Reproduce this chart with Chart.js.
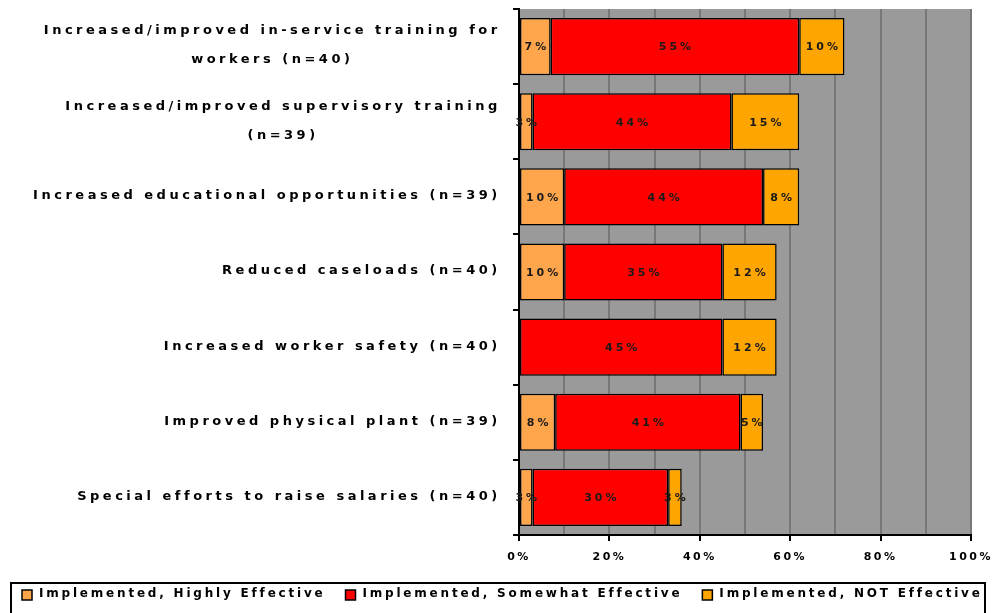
<!DOCTYPE html>
<html>
<head>
<meta charset="utf-8">
<script src="https://cdn.jsdelivr.net/npm/chart.js@4/dist/chart.umd.min.js"></script>
<style>
  html, body { margin: 0; padding: 0; background: #fff; }
  #wrap { width: 992px; height: 613px; }
</style>
</head>
<body>
<div id="wrap"><canvas id="chart"></canvas></div>
<script>
// categories (top to bottom)
const categories = [
	["Increased/improved in-service training for", "workers (n=40)"],
	["Increased/improved supervisory training", "(n=39)"],
	"Increased educational opportunities (n=39)",
	"Reduced caseloads (n=40)",
	"Increased worker safety (n=40)",
	"Improved physical plant (n=39)",
	"Special efforts to raise salaries (n=40)"
];
const seriesNames = [
	"Implemented, Highly Effective",
	"Implemented, Somewhat Effective",
	"Implemented, NOT Effective"
];
const highlyEffective = [7, 3, 10, 10, 0, 8, 3];
const somewhatEffective = [55, 44, 44, 35, 45, 41, 30];
const notEffective = [10, 15, 8, 12, 12, 5, 3];
const xTickValues = [0, 20, 40, 60, 80, 100];

const FONT = "'DejaVu Sans', sans-serif";
const colors = ["#FFA64D", "#FF0000", "#FFA500"];

// draws the gray plot background, segment labels, category labels and the boxed legend
const decoPlugin = {
	id: "deco",
	beforeDraw(chart) {
		const { ctx, chartArea: a } = chart;
		ctx.save();
		ctx.fillStyle = "#9a9a9a";
		ctx.fillRect(a.left, a.top, a.right - a.left, a.bottom - a.top);
		ctx.restore();
		ctx.letterSpacing = "2.5px";
	},
	afterDatasetsDraw(chart) {
		const ctx = chart.ctx;
		ctx.save();
		ctx.font = "bold 11px " + FONT;
		ctx.letterSpacing = "3px";
		ctx.fillStyle = "#1a1a1a";
		ctx.textAlign = "center";
		ctx.textBaseline = "middle";
		chart.data.datasets.forEach((ds, di) => {
			const meta = chart.getDatasetMeta(di);
			meta.data.forEach((bar, i) => {
				const v = ds.data[i];
				if (!v) return;
				const cx = (bar.x + bar.base) / 2 + 1.5;
				ctx.fillText(v + "%", cx, bar.y + 1);
			});
		});
		ctx.restore();
	},
	afterDraw(chart) {
		const ctx = chart.ctx;
		const yScale = chart.scales.y;
		ctx.save();
		// category labels: block right aligned, lines centred in the block
		ctx.font = "bold 13px " + FONT;
		ctx.letterSpacing = "3.5px";
		ctx.fillStyle = "#000";
		ctx.textAlign = "center";
		ctx.textBaseline = "middle";
		const rightEdge = yScale.right - 20;
		const lineH = 29;
		chart.data.labels.forEach((lab, i) => {
			const lines = Array.isArray(lab) ? lab : [lab];
			const w = Math.max(...lines.map(l => ctx.measureText(l).width));
			const cx = rightEdge - w / 2;
			const cy = yScale.getPixelForValue(i) - 1;
			lines.forEach((l, k) => {
				ctx.fillText(l, cx + 1.7, cy + (k - (lines.length - 1) / 2) * lineH);
			});
		});

		// legend box
		const top = 583;
		ctx.lineWidth = 2;
		ctx.strokeStyle = "#000";
		ctx.strokeRect(11, top, 974, 40);
		ctx.font = "bold 12px " + FONT;
		ctx.letterSpacing = "2.8px";
		ctx.textAlign = "left";
		let x = 22;
		chart.data.datasets.forEach((ds) => {
			ctx.fillStyle = ds.backgroundColor;
			ctx.fillRect(x, top + 7, 10, 10);
			ctx.lineWidth = 1.5;
			ctx.strokeRect(x, top + 7, 10, 10);
			ctx.fillStyle = "#000";
			ctx.fillText(ds.label, x + 17, top + 11);
			x += 17 + ctx.measureText(ds.label).width + 20;
		});
		ctx.restore();
	}
};

new Chart(document.getElementById("chart"), {
	type: "bar",
	data: {
		labels: categories,
		datasets: [highlyEffective, somewhatEffective, notEffective].map((d, i) => ({
			label: seriesNames[i],
			data: d,
			backgroundColor: colors[i],
			borderColor: "#000",
			borderWidth: 1.5,
			borderSkipped: false,
			barPercentage: 0.76,
			categoryPercentage: 1,
		})),
	},
	options: {
		indexAxis: "y",
		responsive: true,
		maintainAspectRatio: false,
		animation: false,
		layout: {
			padding: { left: 10, right: 21, top: 9, bottom: 30 },
		},
		plugins: {
			legend: { display: false },
			tooltip: { enabled: false },
		},
		scales: {
			x: {
				stacked: true,
				min: 0,
				max: 100,
				afterBuildTicks: (s) => {
					const vals = [];
					for (let v = 0; v <= 100; v += 10) vals.push({ value: v });
					s.ticks = vals;
				},
				ticks: {
					autoSkip: false,
					maxRotation: 0,
					padding: 10,
					color: "#000",
					font: { family: FONT, weight: "bold", size: 11 },
					callback: (v) => (xTickValues.includes(v) ? v + "%" : ""),
				},
				grid: {
					color: (c) => (c.tick && c.tick.value === 0 ? "rgba(0,0,0,0)" : "#777"),
					lineWidth: 2,
					tickLength: 6,
					tickColor: (c) => (c.tick && xTickValues.includes(c.tick.value) ? "#000" : "rgba(0,0,0,0)"),
				},
				border: { color: "#000", width: 2 },
				afterFit: (s) => { s.height = 48; s.paddingRight = 0; s.paddingLeft = 0; },
			},
			y: {
				stacked: true,
				ticks: { display: false },
				grid: {
					drawOnChartArea: false,
					tickLength: 6,
					tickColor: "#000",
					lineWidth: 2,
				},
				border: { color: "#000", width: 2 },
				afterFit: (s) => { s.width = 509; },
			},
		},
	},
	plugins: [decoPlugin],
});
</script>
</body>
</html>
